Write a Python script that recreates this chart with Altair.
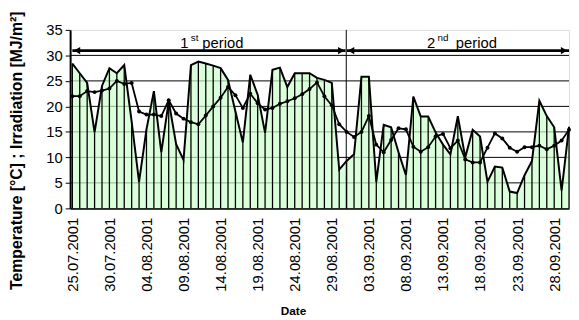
import json
import altair as alt
import pandas as pd

# ---------------- data ----------------
dates = pd.date_range("2001-07-25", "2001-09-30").strftime("%d.%m.%Y").tolist()

irradiation = [28.4, 26.5, 24.6, 14.9, 24.0, 27.5, 26.5, 28.1, 17.0, 5.2,
               15.5, 23.0, 11.0, 21.0, 12.6, 9.5, 28.1, 28.8, 28.4, 28.0,
               27.5, 25.2, 19.0, 12.9, 26.2, 22.3, 14.8, 27.2, 27.6, 23.8,
               26.5, 26.5, 26.5, 25.6, 25.2, 24.6, 7.6, 9.3, 10.6, 25.8,
               25.8, 5.2, 16.4, 15.9, 11.0, 6.5, 21.9, 18.0, 18.0, 14.9,
               12.5, 10.6, 18.1, 10.0, 15.4, 14.1, 5.2, 8.2, 8.0, 3.3,
               3.0, 6.5, 9.3, 21.1, 18.1, 15.9, 3.5, 16.0]

temperature = [22.0, 22.0, 23.0, 22.8, 23.1, 23.5, 25.0, 24.4, 24.6, 19.0,
               18.4, 18.4, 18.1, 21.2, 18.6, 17.6, 16.9, 16.5, 18.2, 20.0,
               21.7, 23.8, 22.2, 19.7, 22.5, 20.6, 19.4, 19.7, 20.5, 21.0,
               21.6, 22.4, 23.4, 24.7, 22.0, 20.2, 16.5, 15.0, 14.0, 15.0,
               18.1, 12.5, 11.0, 13.4, 15.7, 15.5, 12.1, 11.1, 12.0, 14.1,
               14.6, 11.8, 13.3, 9.6, 9.0, 9.0, 11.9, 14.7, 13.7, 11.9,
               11.1, 12.0, 12.0, 12.3, 11.6, 12.3, 13.3, 15.4]

x_tick_index = [0, 5, 10, 15, 20, 25, 30, 35, 40, 45, 50, 55, 60, 65]
x_labels = [dates[i] for i in x_tick_index]
y_ticks = [0, 5, 10, 15, 20, 25, 30, 35]
grid_values = [5, 10, 15, 20, 25, 30]

period_split = 36.95
arrow_level = 30.94
period_texts = ["1", "st", "period", "2", "nd", "period"]
period_text_x = [15.1, 16.5, 20.3, 48.4, 50.0, 54.5]
period_text_y = [31.5, 32.9, 31.5, 31.5, 32.9, 31.5]
period_text_size = [15, 10, 15, 15, 10, 15]

arrow_x = [0.0, 37.05]
arrow_x2 = [36.85, 67.0]
head_x = [0.63, 36.27, 37.6, 66.33]
head_shape = ["triangle-left", "triangle-right", "triangle-left", "triangle-right"]

y_title = "Temperature [°C] ; Irradiation [MJ/m²]"
FONT = "Liberation Sans"

# ---------------- tables ----------------
df = pd.DataFrame({
    "idx": list(range(len(dates))),
    "date": dates,
    "irr": irradiation,
    "temp": temperature,
    "zero": [0] * len(dates),
})
grid_df = pd.DataFrame({"g": grid_values})
split_df = pd.DataFrame({"s": [period_split], "y0": [0], "y1": [35]})
text_df = pd.DataFrame({"t": period_texts, "x": period_text_x,
                        "y": period_text_y, "size": period_text_size})
arrow_df = pd.DataFrame({"x": arrow_x, "x2": arrow_x2, "y": [arrow_level] * 2})
head_df = pd.DataFrame({"x": head_x, "shape": head_shape, "y": [arrow_level] * 4})

xscale = alt.Scale(domain=[-0.3, 67], nice=False, zero=False)
yscale = alt.Scale(domain=[0, 35], nice=False)

label_expr = json.dumps(x_labels) + "[round(datum.value / 5)]"

x_axis = alt.Axis(values=x_tick_index, labelExpr=label_expr, labelAngle=-90,
                  labelFontSize=15, labelFont=FONT, labelColor="black",
                  labelPadding=9, ticks=False, domainColor="black",
                  domainWidth=2, grid=False, title="Date", titleFont=FONT,
                  titleFontSize=12, titleFontWeight="bold", titleColor="black",
                  titleX=226, titleY=104, titleBaseline="middle",
                  titleAnchor="start", titleAlign="center")
y_axis = alt.Axis(values=y_ticks, labelFontSize=15, labelFont=FONT,
                  labelColor="black", labelPadding=3, tickSize=5,
                  tickColor="black", domainColor="black", domainWidth=2,
                  grid=False, title=y_title, titleFont=FONT, titleFontSize=16,
                  titleFontWeight="bold", titleColor="black", titleX=-54,
                  titleY=122, titleAngle=-90, titleAlign="center",
                  titleBaseline="middle", titleAnchor="start")


def X(field):
    return alt.X(field, scale=xscale, axis=x_axis, title="Date")


def Y(field):
    return alt.Y(field, scale=yscale, axis=y_axis, title=y_title)


grid = alt.Chart(grid_df).mark_rule(color="black", strokeWidth=1).encode(
    y=Y("g:Q"),
    x=alt.value(0), x2=alt.value(506),
)

area = alt.Chart(df).mark_area(color="#ccffcc", line={"color": "black", "strokeWidth": 2},
                               interpolate="linear").encode(
    x=X("idx:Q"),
    y=Y("irr:Q"),
)

drops = alt.Chart(df).mark_rule(color="black", strokeWidth=1.3).encode(
    x=X("idx:Q"),
    y=Y("zero:Q"),
    y2="irr:Q",
)

split = alt.Chart(split_df).mark_rule(color="black", strokeWidth=1).encode(
    x=X("s:Q"),
    y=Y("y0:Q"),
    y2="y1:Q",
)

temp_line = alt.Chart(df).mark_line(color="black", strokeWidth=1.8,
                                    point={"filled": True, "color": "black", "size": 16}).encode(
    x=X("idx:Q"),
    y=Y("temp:Q"),
)

arrows = alt.Chart(arrow_df).mark_rule(color="black", strokeWidth=3).encode(
    x=X("x:Q"),
    x2="x2:Q",
    y=Y("y:Q"),
)

heads = alt.Chart(head_df).mark_point(filled=True, color="black", size=55, opacity=1).encode(
    x=X("x:Q"),
    y=Y("y:Q"),
    shape=alt.Shape("shape:N", scale=None, legend=None),
)

texts = alt.Chart(text_df).mark_text(font=FONT, color="black", baseline="alphabetic",
                                     align="center").encode(
    x=X("x:Q"),
    y=Y("y:Q"),
    text="t:N",
    size=alt.Size("size:Q", scale=None, legend=None),
)

chart = alt.layer(grid, area, drops, split, temp_line, arrows, heads, texts).properties(
    width=506, height=181,
    autosize=alt.AutoSizeParams(type="none"),
    padding={"left": 63, "top": 20, "right": 2, "bottom": 111},
).configure_view(stroke="#808080", strokeWidth=1).configure(background="white")

chart.save("out.html", embed_options={"renderer": "svg", "actions": False})
